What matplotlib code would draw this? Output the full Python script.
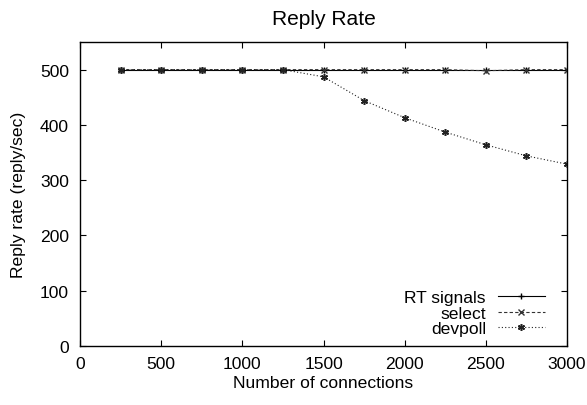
import matplotlib
matplotlib.use('Agg')
import matplotlib.pyplot as plt

plt.rcParams['font.family'] = ['Liberation Sans', 'DejaVu Sans']
plt.rcParams['font.size'] = 12.6

# Daten
connections = [250, 500, 750, 1000, 1250, 1500, 1750, 2000, 2250, 2500, 2750, 3000]
rt_signals = [500, 500, 500, 500, 500, 500, 500, 500, 500, 500, 500, 500]
select = [500, 500, 500, 500, 500, 500, 500, 500, 500, 498, 500, 500]
devpoll = [500, 500, 500, 500, 500, 487, 444, 413, 387, 364, 344, 329]

fig = plt.figure(figsize=(5.87, 4.06), dpi=100)
ax = fig.add_axes([80 / 587, 1 - 347 / 406, (567 - 80) / 587, (347 - 43) / 406])

ax.plot(connections, rt_signals, color='black', lw=0.8, marker='+', ms=5, mew=1.0,
        label='RT signals')
ax.plot(connections, select, color='#333333', lw=0.8, dashes=(3, 2), marker='x', ms=4,
        mew=1.0, label='select')
ax.plot(connections, devpoll, color='#222222', lw=0.8, dashes=(1, 2), marker=(6, 2, 0),
        ms=5, mew=1.1, label='devpoll')

ax.set_xlim(0, 3000)
ax.set_ylim(0, 550)
ax.set_xticks(range(0, 3001, 500))
ax.set_yticks(range(0, 501, 100))
ax.tick_params(direction='in', length=4, width=0.8, top=True, right=True)
ax.tick_params(axis='x', pad=7)
ax.tick_params(axis='y', pad=8)
for s in ax.spines.values():
    s.set_linewidth(1.0)

ax.set_title('Reply Rate', pad=13)
ax.set_xlabel('Number of connections', labelpad=3)
ax.set_ylabel('Reply rate (reply/sec)', labelpad=10)

ax.legend(loc='lower right', frameon=False, markerfirst=False, handlelength=2.7,
          handletextpad=0.68, labelspacing=0.0, borderpad=0, borderaxespad=0,
          bbox_to_anchor=(0.955, 0.033))

fig.savefig('out.png', dpi=100)
